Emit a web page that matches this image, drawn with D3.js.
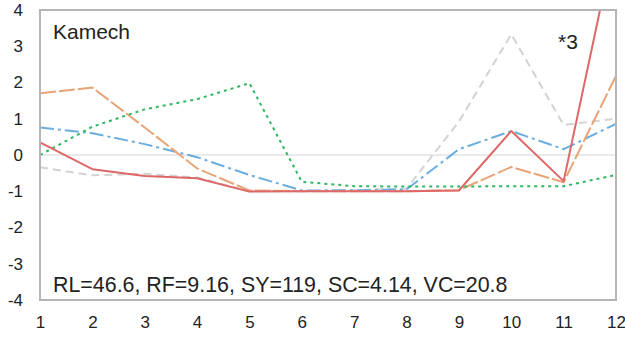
<!DOCTYPE html>
<html>
<head>
<meta charset="utf-8">
<script src="https://cdn.jsdelivr.net/npm/d3@7"></script>
<style>
  html, body { margin: 0; padding: 0; background: #fff; }
  svg { display: block; font-family: "Liberation Sans", Arial, sans-serif; }
</style>
</head>
<body>
<svg id="chart" width="625" height="337"></svg>
<script>
// Months on the x axis
const months = [1, 2, 3, 4, 5, 6, 7, 8, 9, 10, 11, 12];
const yTicks = [-4, -3, -2, -1, 0, 1, 2, 3, 4];

// Standardised monthly series
const seriesGray   = [-0.34, -0.56, -0.52, -0.62, -1.0, -1.0, -0.97, -0.93, 0.92, 3.33, 0.83, 1.0];
const seriesBlue   = [0.76, 0.60, 0.30, -0.06, -0.55, -0.98, -0.97, -0.95, 0.16, 0.66, 0.16, 0.86];
const seriesOrange = [1.70, 1.86, 0.76, -0.37, -0.98, -1.0, -1.0, -1.0, -0.97, -0.33, -0.75, 2.18];
const seriesGreen  = [0.0, 0.78, 1.26, 1.54, 1.98, -0.74, -0.86, -0.87, -0.87, -0.86, -0.86, -0.55];
const seriesRed    = [0.35, -0.39, -0.58, -0.64, -1.01, -1.0, -1.0, -1.0, -0.98, 0.66, -0.72, 6.07];

const siteName = "Kamech";
const scaleNote = "*3";
const statsText = "RL=46.6, RF=9.16, SY=119, SC=4.14, VC=20.8";

const svg = d3.select("#chart");
const m = { left: 40, top: 10, right: 616, bottom: 300 };

const x = d3.scaleLinear().domain([1, 12]).range([m.left, m.right]);
const y = d3.scaleLinear().domain([-4, 4]).range([m.bottom, m.top]);

svg.append("defs").append("clipPath").attr("id", "plotClip")
  .append("rect")
  .attr("x", m.left).attr("y", m.top)
  .attr("width", m.right - m.left).attr("height", m.bottom - m.top);

// zero reference line
svg.append("line")
  .attr("x1", m.left).attr("x2", m.right)
  .attr("y1", y(0)).attr("y2", y(0))
  .attr("stroke", "#d4d4d4").attr("stroke-width", 1);

// axes (labels only), plain hyphen for negatives
const fmt = d => String(d);
const yAxis = d3.axisLeft(y).tickValues(yTicks).tickSize(0).tickPadding(17).tickFormat(fmt);
const gy = svg.append("g").attr("transform", `translate(${m.left},0)`).call(yAxis);
gy.select(".domain").remove();
gy.selectAll("text").attr("font-size", 17).attr("fill", "#222")
  .attr("font-family", "Liberation Sans, Arial, sans-serif");

const xAxis = d3.axisBottom(x).tickValues(months).tickSize(0).tickPadding(16).tickFormat(fmt);
const gx = svg.append("g").attr("transform", `translate(0,${m.bottom})`).call(xAxis);
gx.select(".domain").remove();
gx.selectAll("text").attr("font-size", 17).attr("fill", "#222")
  .attr("font-family", "Liberation Sans, Arial, sans-serif");

const line = d3.line().x((d, i) => x(months[i])).y(d => y(d));

const series = [
  { values: seriesGray,   color: "#d2d2d2", dash: "8,5" },
  { values: seriesBlue,   color: "#6aaee0", dash: "14,4,3,4" },
  { values: seriesOrange, color: "#e8a476", dash: "16,3" },
  { values: seriesGreen,  color: "#2fb660", dash: "3,4" },
  { values: seriesRed,    color: "#de6767", dash: null }
];

const gLines = svg.append("g").attr("clip-path", "url(#plotClip)");
series.forEach(s => {
  gLines.append("path")
    .attr("d", line(s.values))
    .attr("fill", "none")
    .attr("stroke", s.color)
    .attr("stroke-width", 2)
    .attr("stroke-dasharray", s.dash)
    .attr("stroke-linejoin", "round");
});

// plot frame
svg.append("rect")
  .attr("x", m.left).attr("y", m.top)
  .attr("width", m.right - m.left).attr("height", m.bottom - m.top)
  .attr("fill", "none").attr("stroke", "#b5b5b5").attr("stroke-width", 2);

// annotations
svg.append("text").attr("x", 53).attr("y", 39)
  .attr("font-size", 21).attr("fill", "#222").text(siteName);
svg.append("text").attr("x", 558).attr("y", 49)
  .attr("font-size", 21).attr("fill", "#222").text(scaleNote);
svg.append("text").attr("x", 53).attr("y", 292)
  .attr("font-size", 21.4).attr("fill", "#222").text(statsText);
</script>
</body>
</html>
